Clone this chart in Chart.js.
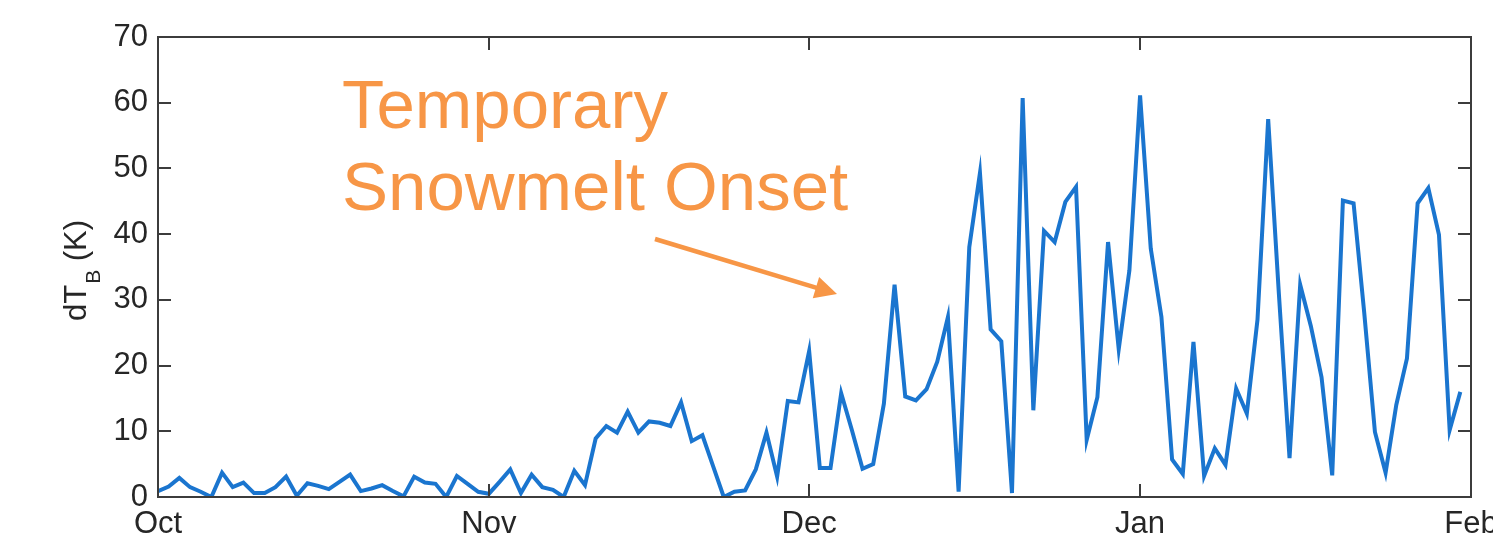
<!DOCTYPE html>
<html>
<head>
<meta charset="utf-8">
<script src="https://cdn.jsdelivr.net/npm/chart.js@4"></script>
<style>
  html, body { margin: 0; padding: 0; background: #fff; }
  #wrap { width: 1493px; height: 540px; }
</style>
</head>
<body>
<div id="wrap"><canvas id="myChart"></canvas></div>
<script>
// daily dT_B from Oct 1 to Jan 31
const dtb = [
  0.9, 1.6, 2.9, 1.5, 0.8, 0.0, 3.7, 1.5, 2.2, 0.6,
  0.6, 1.5, 3.1, 0.2, 2.1, 1.7, 1.2, 2.3, 3.4, 0.9,
  1.3, 1.8, 0.9, 0.1, 3.1, 2.2, 2.0, 0.0, 3.2, 2.0,
  0.8, 0.5, 2.3, 4.2, 0.6, 3.4, 1.5, 1.1, 0.0, 4.0,
  1.8, 8.9, 10.8, 9.8, 13.0, 9.8, 11.5, 11.3, 10.8, 14.4,
  8.5, 9.4, 4.7, 0.0, 0.8, 1.0, 4.2, 9.8, 3.1, 14.6,
  14.4, 22.2, 4.4, 4.4, 15.8, 10.2, 4.3, 5.0, 14.2, 32.3,
  15.3, 14.7, 16.4, 20.6, 27.4, 0.8, 38.0, 49.3, 25.5, 23.7,
  0.6, 60.7, 13.2, 40.5, 38.8, 44.9, 47.2, 8.7, 15.2, 38.8,
  22.5, 34.5, 61.1, 37.8, 27.4, 5.7, 3.5, 23.6, 3.2, 7.4,
  4.9, 16.5, 12.7, 27.0, 57.5, 31.0, 5.9, 32.3, 26.0, 18.2,
  3.3, 45.1, 44.7, 28.0, 9.9, 3.7, 14.0, 21.1, 44.7, 47.0,
  39.9, 10.2, 16.0
];
const monthLabels = ["Oct", "Nov", "Dec", "Jan", "Feb"];
const monthStart = [0, 31, 61, 92, 123];
const yTicks = [0, 10, 20, 30, 40, 50, 60, 70];

const textColor = "#262626";
const axisColor = "#3c3c3c";
const orange = "#f79646";
const font = "Liberation Sans, Arial, Helvetica, sans-serif";

// box, inner ticks, axis title and the annotation
const decorations = {
  id: "decorations",
  afterDraw(chart) {
    const ctx = chart.ctx;
    const a = chart.chartArea;
    const xs = chart.scales.x, ys = chart.scales.y;
    ctx.save();
    ctx.strokeStyle = axisColor;
    ctx.lineWidth = 2;
    ctx.strokeRect(a.left, a.top, a.right - a.left, a.bottom - a.top);
    ctx.beginPath();
    yTicks.forEach(v => {
      const y = Math.round(ys.getPixelForValue(v));
      ctx.moveTo(a.left, y); ctx.lineTo(a.left + 13, y);
      ctx.moveTo(a.right, y); ctx.lineTo(a.right - 13, y);
    });
    monthStart.forEach(v => {
      const x = Math.round(xs.getPixelForValue(v));
      ctx.moveTo(x, a.bottom); ctx.lineTo(x, a.bottom - 13);
      ctx.moveTo(x, a.top); ctx.lineTo(x, a.top + 13);
    });
    ctx.stroke();

    // y title: dT_B (K)
    ctx.fillStyle = textColor;
    ctx.translate(86, 321);
    ctx.rotate(-Math.PI / 2);
    ctx.textBaseline = "alphabetic";
    ctx.textAlign = "left";
    ctx.font = "31px " + font;
    ctx.fillText("dT", 0, 0);
    let w = ctx.measureText("dT").width;
    ctx.font = "21px " + font;
    ctx.fillText("B", w + 1, 14);
    w += ctx.measureText("B").width + 1;
    ctx.font = "31px " + font;
    ctx.fillText(" (K)", w, 0);
    ctx.restore();

    // annotation
    ctx.save();
    ctx.fillStyle = orange;
    ctx.font = "69px " + font;
    ctx.textBaseline = "alphabetic";
    ctx.fillText("Temporary", 342, 128);
    ctx.fillText("Snowmelt Onset", 342, 210);
    const x0 = 655, y0 = 239, x1 = 837, y1 = 294;
    const ang = Math.atan2(y1 - y0, x1 - x0);
    ctx.strokeStyle = orange;
    ctx.lineWidth = 4.5;
    ctx.beginPath();
    ctx.moveTo(x0, y0);
    ctx.lineTo(x1 - 16 * Math.cos(ang), y1 - 16 * Math.sin(ang));
    ctx.stroke();
    ctx.beginPath();
    ctx.moveTo(x1, y1);
    ctx.lineTo(x1 - 22 * Math.cos(ang) + 11 * Math.sin(ang), y1 - 22 * Math.sin(ang) - 11 * Math.cos(ang));
    ctx.lineTo(x1 - 22 * Math.cos(ang) - 11 * Math.sin(ang), y1 - 22 * Math.sin(ang) + 11 * Math.cos(ang));
    ctx.closePath();
    ctx.fill();
    ctx.restore();
  }
};

const data = {
  datasets: [{
    data: dtb.map((v, i) => ({ x: i, y: v })),
    borderColor: "#1a75cf",
    borderWidth: 4,
    pointRadius: 0,
    tension: 0,
    fill: false
  }]
};

const config = {
  type: "line",
  data: data,
  options: {
    responsive: true,
    maintainAspectRatio: false,
    animation: false,
    layout: { padding: { left: 0, right: 22, top: 37, bottom: 0 } },
    scales: {
      x: {
        type: "linear",
        min: 0,
        max: 123,
        grid: { display: false, drawTicks: false },
        border: { display: false },
        afterBuildTicks: s => { s.ticks = monthStart.map(v => ({ value: v })); },
        afterFit: s => { s.height = 43; s.paddingLeft = 0; s.paddingRight = 0; },
        ticks: {
          color: textColor,
          padding: 9,
          maxRotation: 0,
          autoSkip: false,
          font: { family: font, size: 31 },
          callback: v => monthLabels[monthStart.indexOf(v)]
        }
      },
      y: {
        min: 0,
        max: 70,
        grid: { display: false, drawTicks: false },
        border: { display: false },
        afterFit: s => { s.width = 158; s.paddingTop = 0; s.paddingBottom = 0; },
        ticks: {
          color: textColor,
          padding: 10,
          stepSize: 10,
          font: { family: font, size: 31 }
        }
      }
    },
    plugins: {
      legend: { display: false },
      tooltip: { enabled: false }
    },
    hover: { mode: null }
  },
  plugins: [decorations]
};

const myChart = new Chart(document.getElementById("myChart"), config);
</script>
</body>
</html>
